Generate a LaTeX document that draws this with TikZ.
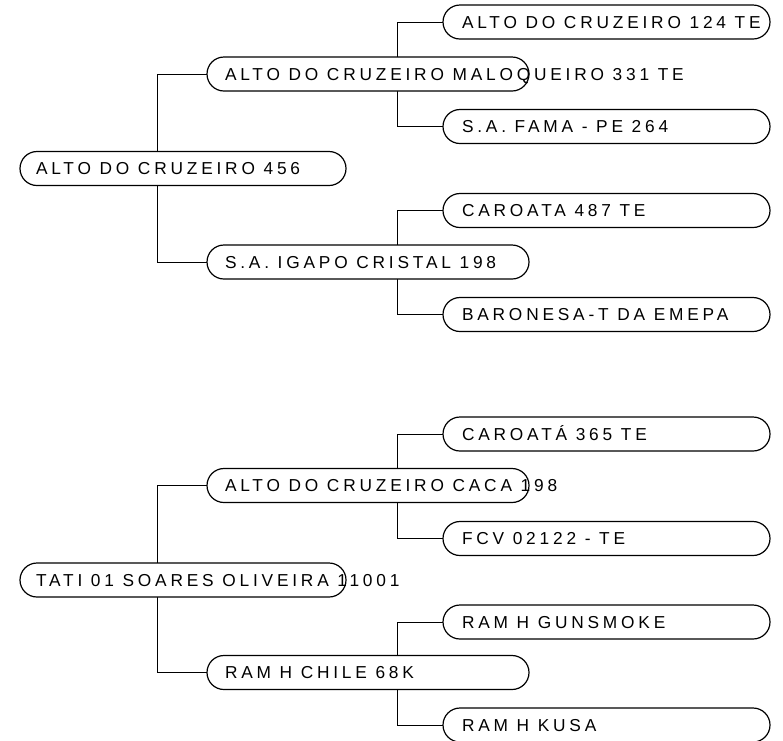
\documentclass[tikz,border=0pt]{standalone}
\usepackage{fontspec}
\setmainfont{Liberation Sans}[LetterSpace=22]
\usetikzlibrary{backgrounds}
\newcommand{\pilltext}[3]{\makebox[#1][l]{\hspace{#2}#3}}
\tikzset{
  pill/.style={draw, fill=white, line width=1.2pt, rounded corners=17pt,
    minimum height=34pt, inner xsep=0pt, inner ysep=0pt, outer sep=0pt,
    anchor=west, font=\fontsize{17.3}{19}\selectfont, text height=12.3pt, text depth=0pt},
  conn/.style={draw, line width=1pt},
}
\begin{document}
\begin{tikzpicture}[x=1pt,y=-1pt]
\useasboundingbox (0,0) rectangle (783,740);
% tree 1
\node[pill] (r1) at (20,168.5) {\pilltext{326pt}{16pt}{ALTO DO CRUZEIRO 456}};
\node[pill] (p1) at (207,74) {\pilltext{322pt}{18pt}{ALTO DO CRUZEIRO MALOQUEIRO 331 TE}};
\node[pill] (p2) at (207,262) {\pilltext{322pt}{18pt}{S.A. IGAPO CRISTAL 198}};
\node[pill] (g1) at (443,22) {\pilltext{327pt}{19pt}{ALTO DO CRUZEIRO 124 TE}};
\node[pill] (g2) at (443,126.5) {\pilltext{327pt}{19pt}{S.A. FAMA - PE 264}};
\node[pill] (g3) at (443,210.5) {\pilltext{327pt}{19pt}{CAROATA 487 TE}};
\node[pill] (g4) at (443,314.5) {\pilltext{327pt}{19pt}{BARONESA-T DA EMEPA}};
% tree 2
\node[pill] (r2) at (20,580) {\pilltext{326pt}{16pt}{TATI 01 SOARES OLIVEIRA 11001}};
\node[pill] (p3) at (207,485.5) {\pilltext{322pt}{18pt}{ALTO DO CRUZEIRO CACA 198}};
\node[pill] (p4) at (207,672.5) {\pilltext{322pt}{18pt}{RAM H CHILE 68K}};
\node[pill] (g5) at (443,434) {\pilltext{327pt}{19pt}{CAROATÁ 365 TE}};
\node[pill] (g6) at (443,538.5) {\pilltext{327pt}{19pt}{FCV 02122 - TE}};
\node[pill] (g7) at (443,622) {\pilltext{327pt}{19pt}{RAM H GUNSMOKE}};
\node[pill] (g8) at (443,725) {\pilltext{327pt}{19pt}{RAM H KUSA}};
\begin{scope}[on background layer]
\draw[conn] (p1.west) -- ++(-50,0) |- (p2.west);
\draw[conn] (g1.west) -- ++(-46,0) |- (g2.west);
\draw[conn] (g3.west) -- ++(-46,0) |- (g4.west);
\draw[conn] (p3.west) -- ++(-50,0) |- (p4.west);
\draw[conn] (g5.west) -- ++(-46,0) |- (g6.west);
\draw[conn] (g7.west) -- ++(-46,0) |- (g8.west);
\end{scope}
\end{tikzpicture}
\end{document}
